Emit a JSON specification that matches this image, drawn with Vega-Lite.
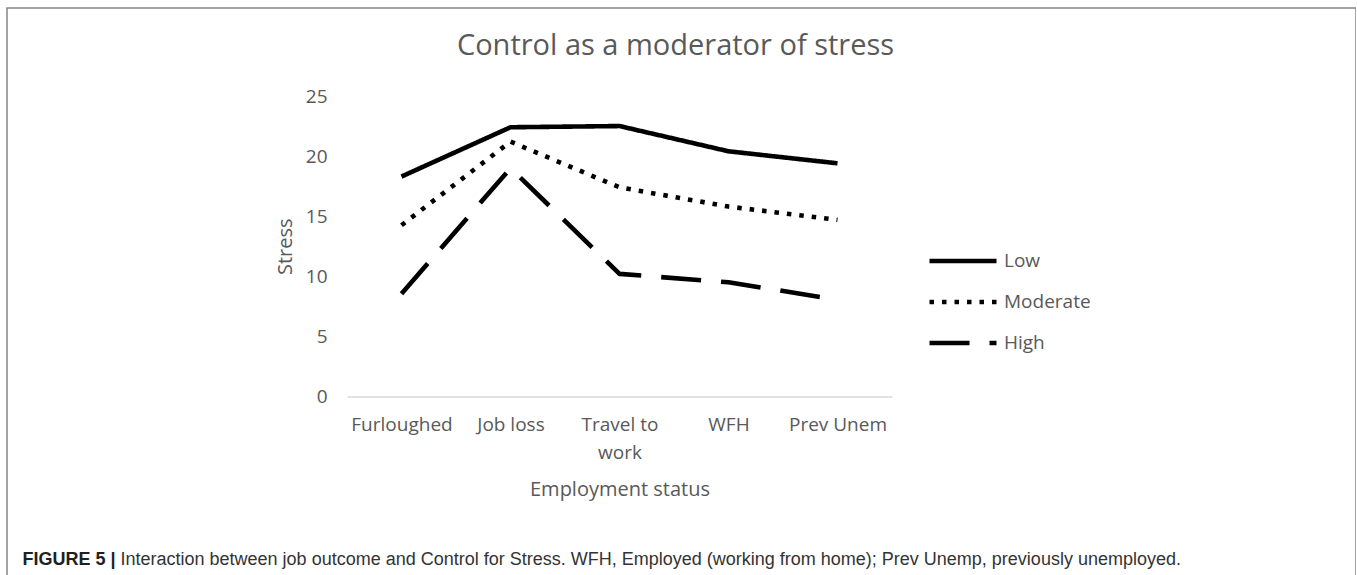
{
  "$schema": "https://vega.github.io/schema/vega-lite/v6.json",
  "width": 1349,
  "height": 600,
  "autosize": {"type": "none"},
  "padding": {"left": 7, "top": 8, "right": 0, "bottom": 0},
  "background": "white",
  "config": {
    "font": "Open Sans",
    "view": {"stroke": "#858585", "strokeWidth": 1.5}
  },
  "title": {
    "text": "Control as a moderator of stress",
    "anchor": "middle",
    "frame": "group",
    "dx": -6,
    "dy": 76,
    "offset": 0,
    "baseline": "alphabetic",
    "font": "Open Sans",
    "fontSize": 29,
    "fontWeight": "normal",
    "color": "#595959"
  },
  "data": {
    "values": [
      {"status": "Furloughed", "control": "Low", "stress": 18.3},
      {"status": "Job loss", "control": "Low", "stress": 22.4},
      {"status": "Travel to work", "control": "Low", "stress": 22.5},
      {"status": "WFH", "control": "Low", "stress": 20.4},
      {"status": "Prev Unem", "control": "Low", "stress": 19.4},
      {"status": "Furloughed", "control": "Moderate", "stress": 14.25},
      {"status": "Job loss", "control": "Moderate", "stress": 21.2},
      {"status": "Travel to work", "control": "Moderate", "stress": 17.4},
      {"status": "WFH", "control": "Moderate", "stress": 15.8},
      {"status": "Prev Unem", "control": "Moderate", "stress": 14.7},
      {"status": "Furloughed", "control": "High", "stress": 8.55},
      {"status": "Job loss", "control": "High", "stress": 19.0},
      {"status": "Travel to work", "control": "High", "stress": 10.2},
      {"status": "WFH", "control": "High", "stress": 9.5},
      {"status": "Prev Unem", "control": "High", "stress": 8.05}
    ]
  },
  "layer": [
    {
      "mark": {"type": "line", "strokeWidth": 4.6, "color": "black", "strokeJoin": "round", "strokeCap": "butt"},
      "encoding": {
        "x": {
          "field": "status",
          "type": "nominal",
          "sort": ["Furloughed", "Job loss", "Travel to work", "WFH", "Prev Unem"],
          "scale": {"type": "point", "padding": 0.5, "range": [340, 885]},
          "axis": {
            "orient": "bottom",
            "offset": -211.5,
            "title": "Employment status",
            "labelAngle": 0,
            "labelFont": "Open Sans",
            "labelFontSize": 19,
            "labelColor": "#595959",
            "labelPadding": 19,
            "labelLineHeight": 28,
            "labelExpr": "datum.label == 'Travel to work' ? ['Travel to', 'work'] : datum.label",
            "ticks": false,
            "tickSize": 0,
            "domainColor": "#d9d9d9",
            "domainWidth": 1.5,
            "grid": false,
            "titleFont": "Open Sans",
            "titleFontSize": 20,
            "titleFontWeight": "normal",
            "titleColor": "#595959",
            "titlePadding": 17
          }
        },
        "y": {
          "field": "stress",
          "type": "quantitative",
          "scale": {"domain": [0, 25], "range": [388.5, 88], "nice": false, "zero": true},
          "axis": {
            "orient": "left",
            "offset": -340,
            "values": [0, 5, 10, 15, 20, 25],
            "title": "Stress",
            "grid": false,
            "domain": false,
            "ticks": false,
            "tickSize": 0,
            "labelPadding": 20,
            "labelFont": "Open Sans",
            "labelFontSize": 19,
            "labelColor": "#595959",
            "titleFont": "Open Sans",
            "titleFontSize": 20,
            "titleFontWeight": "normal",
            "titleColor": "#595959",
            "titlePadding": 10
          }
        },
        "strokeDash": {
          "field": "control",
          "type": "nominal",
          "sort": ["Low", "Moderate", "High"],
          "scale": {"domain": ["Low", "Moderate", "High"], "range": [[1, 0], [4.5, 8], [40, 20]]},
          "legend": {
            "orient": "none",
            "legendX": 920,
            "legendY": 232.5,
            "title": null,
            "symbolType": "stroke",
            "symbolSize": 4489,
            "symbolStrokeWidth": 4.6,
            "symbolStrokeColor": "black",
            "labelFont": "Open Sans",
            "labelFontSize": 19,
            "labelColor": "#595959",
            "labelOffset": 5,
            "clipHeight": 41,
            "rowPadding": 0,
            "padding": 0
          }
        }
      }
    },
    {
      "mark": {"type": "line", "opacity": 0},
      "encoding": {
        "x": {
          "field": "status",
          "type": "nominal",
          "sort": ["Furloughed", "Job loss", "Travel to work", "WFH", "Prev Unem"],
          "axis": {
            "orient": "top",
            "title": "Interaction between job outcome and Control for Stress. WFH, Employed (working from home); Prev Unemp, previously unemployed.",
            "labels": false,
            "ticks": false,
            "domain": false,
            "grid": false,
            "titleX": 113,
            "titleY": 556,
            "titleAngle": 0,
            "titleAlign": "left",
            "titleAnchor": "start",
            "titleBaseline": "alphabetic",
            "titleFont": "Liberation Sans",
            "titleFontSize": 18,
            "titleFontWeight": "normal",
            "titleColor": "#333333"
          }
        },
        "y": {
          "field": "stress",
          "type": "quantitative",
          "axis": {
            "orient": "right",
            "title": "FIGURE 5 |",
            "labels": false,
            "ticks": false,
            "domain": false,
            "grid": false,
            "titleX": -1334,
            "titleY": 556,
            "titleAngle": 0,
            "titleAlign": "left",
            "titleBaseline": "alphabetic",
            "titleFont": "Liberation Sans",
            "titleFontSize": 18,
            "titleFontWeight": "bold",
            "titleColor": "#231f20"
          }
        },
        "detail": {"field": "control", "type": "nominal"}
      }
    }
  ],
  "resolve": {"axis": {"x": "independent", "y": "independent"}}
}
